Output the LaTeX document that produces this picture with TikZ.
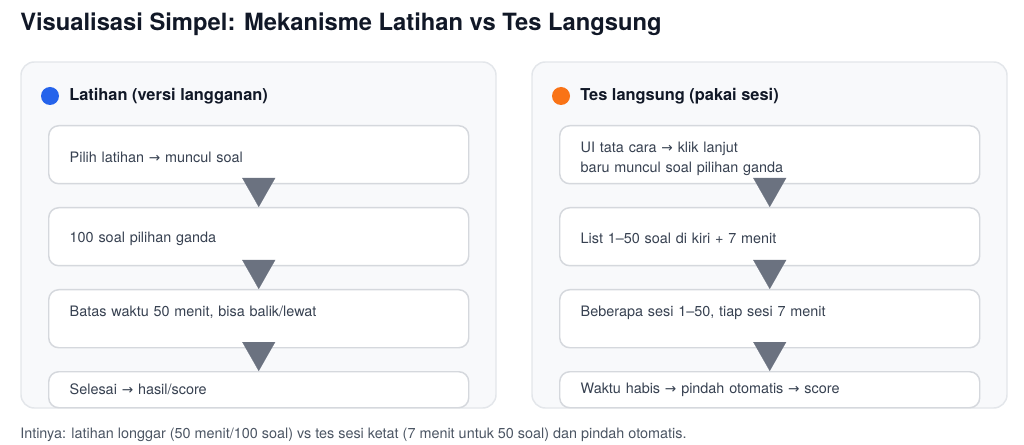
\documentclass[tikz,border=0pt]{standalone}
\usepackage{fontspec}
\setmainfont{TeX Gyre Heros}
\newfontfamily\symfont{DejaVu Sans}[Scale=0.95]
\newcommand{\goesto}{{\symfont →}}
\usetikzlibrary{arrows.meta}

\definecolor{titlecol}{HTML}{111827}
\definecolor{textcol}{HTML}{374151}
\definecolor{notecol}{HTML}{4B5563}
\definecolor{panelfill}{HTML}{F8F9FB}
\definecolor{panelline}{HTML}{E3E6EA}
\definecolor{boxline}{HTML}{D5D8DD}
\definecolor{flowcol}{HTML}{6B7280}
\definecolor{dotblue}{HTML}{2563EB}
\definecolor{dotorange}{HTML}{F97316}

\begin{document}
\begin{tikzpicture}[x=0.75pt, y=-0.75pt]
  % \draw[help lines] (0,0) grid (1024,445);

  \tikzset{panel/.style={draw=panelline,line width=1.1pt,fill=panelfill,rounded corners=10pt}}
  \tikzset{step box/.style={rectangle,draw=boxline,line width=1.1pt,fill=white,rounded corners=7.5pt,
      anchor=north west,minimum width=315pt,minimum height=43.5pt,text width=283.5pt,
      inner xsep=15.75pt,align=left,text=textcol,font=\fontsize{10.8}{15}\selectfont}}
  \tikzset{short box/.style={step box,minimum height=27pt}}
  \tikzset{head dot/.style={circle,inner sep=0pt,minimum size=13.5pt}}
  \tikzset{head label/.style={anchor=west,inner sep=0pt,text=titlecol,font=\bfseries\fontsize{12.3}{14}\selectfont}}
  \tikzset{flow arrow/.style={draw=flowcol,line width=0.1pt,-{Triangle[width=24.75pt,length=21.75pt]}}}

  \useasboundingbox (0,0) rectangle (1024,445);

  \path (20,31) node[anchor=base west,inner sep=0pt,text=titlecol,font=\bfseries\fontsize{17.8}{20}\selectfont]
        (title) {Visualisasi Simpel: Mekanisme Latihan vs Tes Langsung};

  \path[panel] (21,62) rectangle (496,408);
  \path[panel] (532,62) rectangle (1007,408);

  % latihan
  \path
    (50,96) node[head dot,fill=dotblue](ldot) {}
    (69,96) node[head label](lhead) {Latihan (versi langganan)}
    (48,125) node[step box,text height=11.5pt](l1) {Pilih latihan \goesto{} muncul soal}
    (48,207) node[step box,text height=10.5pt](l2) {100 soal pilihan ganda}
    (48,289) node[step box,text depth=11pt](l3) {Batas waktu 50 menit, bisa balik/lewat}
    (48,371) node[short box](l4) {Selesai \goesto{} hasil/score}
  ;

  % tes langsung
  \path
    (561,96) node[head dot,fill=dotorange](rdot) {}
    (580,96) node[head label](rhead) {Tes langsung (pakai sesi)}
    (559,125) node[step box,text height=14pt](r1) {UI tata cara \goesto{} klik lanjut\\ baru muncul soal pilihan ganda}
    (559,207) node[step box,text height=10.5pt](r2) {List 1–50 soal di kiri + 7 menit}
    (559,289) node[step box,text depth=11pt](r3) {Beberapa sesi 1–50, tiap sesi 7 menit}
    (559,371) node[short box](r4) {Waktu habis \goesto{} pindah otomatis \goesto{} score}
  ;

  \draw[flow arrow] ([yshift=3.75pt]l1.south) -- (l2.north);
  \draw[flow arrow] ([yshift=3.75pt]l2.south) -- (l3.north);
  \draw[flow arrow] ([yshift=3.75pt]l3.south) -- (l4.north);
  \draw[flow arrow] ([yshift=3.75pt]r1.south) -- (r2.north);
  \draw[flow arrow] ([yshift=3.75pt]r2.south) -- (r3.north);
  \draw[flow arrow] ([yshift=3.75pt]r3.south) -- (r4.north);

  \path (20,435) node[anchor=west,inner sep=0pt,text=notecol,font=\fontsize{10.8}{12}\selectfont]
        (note) {Intinya: latihan longgar (50 menit/100 soal) vs tes sesi ketat (7 menit untuk 50 soal) dan pindah otomatis.};

\end{tikzpicture}
\end{document}
